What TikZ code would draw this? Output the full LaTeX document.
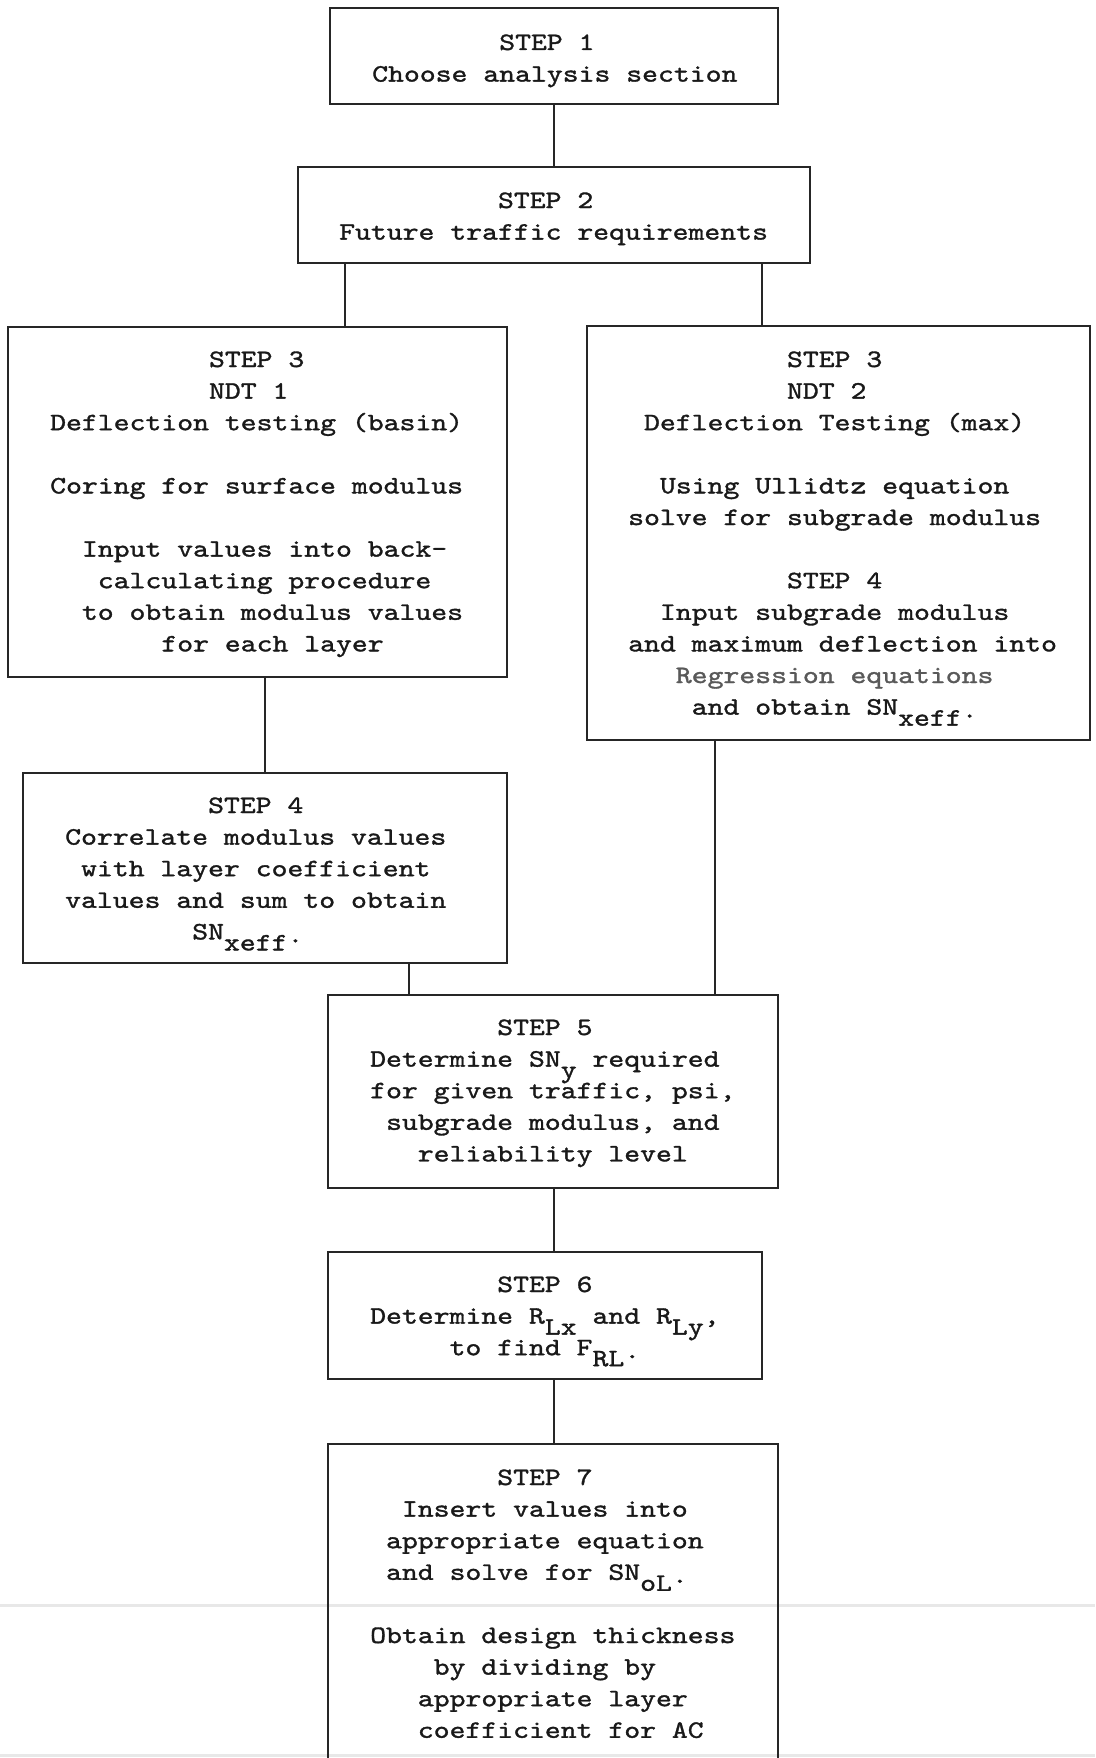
\documentclass[tikz,border=0pt]{standalone}
\usepackage{fontspec}
% typewriter face, widened to a 15.9pt character pitch and given a heavier stroke
\newfontfamily\tw{lmmono10-regular.otf}[FakeStretch=1.21, FakeBold=1.3]
\newlength\cw
\newcommand\twfont{\tw\fontsize{25pt}{31.6pt}\selectfont\settowidth{\cw}{0}}
% one typed line, indented by #1 character cells
\newcommand\tline[2]{\hbox{\hskip#1\cw #2}}
% a block of typed lines; its baseline is the first line's baseline
\newcommand\tblock[1]{\vtop{\baselineskip=31.6pt\lineskiplimit=-100pt\lineskip=0pt #1}}
\newcommand\lowr[1]{\raisebox{-11pt}{#1}}
\newcommand\dotp{\raisebox{-3pt}{.}}

\begin{document}
\begin{tikzpicture}[x=1pt, y=-1pt,
  stepbox/.style={draw=black!85, line width=2.2pt, inner sep=0pt, fill=none},
  txt/.style={anchor=base west, inner sep=0pt, font=\twfont, text=black!90},
  link/.style={draw=black!85, line width=2.2pt},
  faint/.style={draw=black!9, line width=3pt}]
\useasboundingbox (0,0) rectangle (1095,1758);
\clip (0,0) rectangle (1095,1758);

% faint rules across the sheet
\draw[faint] (0,1605) -- (1095,1605);
\draw[faint] (0,1755) -- (1095,1755);

% boxes
\node[stepbox, minimum width=448pt, minimum height=96pt]  (b1)  at (554,56)     {};
\node[stepbox, minimum width=512pt, minimum height=96pt]  (b2)  at (554,215)    {};
\node[stepbox, minimum width=499pt, minimum height=350pt] (b3l) at (257.5,502)  {};
\node[stepbox, minimum width=503pt, minimum height=414pt] (b3r) at (838.5,533)  {};
\node[stepbox, minimum width=484pt, minimum height=190pt] (b4l) at (265,868)    {};
\node[stepbox, minimum width=450pt, minimum height=193pt] (b5)  at (553,1091.5) {};
\node[stepbox, minimum width=434pt, minimum height=127pt] (b6)  at (545,1315.5) {};
\node[stepbox, minimum width=450pt, minimum height=328pt] (b7)  at (553,1608)   {};

% texts
\node[txt] (t1) at (372,50) {\tblock{%
  \tline{8}{STEP 1}%
  \tline{0}{Choose analysis section}}};
\node[txt] (t2) at (339,208) {\tblock{%
  \tline{10}{STEP 2}%
  \tline{0}{Future traffic requirements}}};
\node[txt] (t3l) at (50,367) {\tblock{%
  \tline{10}{STEP 3}%
  \tline{10}{NDT 1}%
  \tline{0}{Deflection testing (basin)}%
  \hbox{}%
  \tline{0}{Coring for surface modulus}%
  \hbox{}%
  \tline{2}{Input values into back-}%
  \tline{3}{calculating procedure}%
  \tline{2}{to obtain modulus values}%
  \tline{7}{for each layer}}};
\node[txt] (t3r) at (628,367) {\tblock{%
  \tline{10}{STEP 3}%
  \tline{10}{NDT 2}%
  \tline{1}{Deflection Testing (max)}%
  \hbox{}%
  \tline{2}{Using Ullidtz equation}%
  \tline{0}{solve for subgrade modulus}%
  \hbox{}%
  \tline{10}{STEP 4}%
  \tline{2}{Input subgrade modulus}%
  \tline{0}{and maximum deflection into}%
  \tline{3}{\color{black!65}Regression equations}%
  \tline{4}{and obtain SN\lowr{xeff}\dotp}}};
\node[txt] (t4l) at (65,813) {\tblock{%
  \tline{9}{STEP 4}%
  \tline{0}{Correlate modulus values}%
  \tline{1}{with layer coefficient}%
  \tline{0}{values and sum to obtain}%
  \tline{8}{SN\lowr{xeff}\dotp}}};
\node[txt] (t5) at (370,1035) {\tblock{%
  \tline{8}{STEP 5}%
  \tline{0}{Determine SN\lowr{y} required}%
  \tline{0}{for given traffic, psi,}%
  \tline{1}{subgrade modulus, and}%
  \tline{3}{reliability level}}};
\node[txt] (t6) at (370,1292) {\tblock{%
  \tline{8}{STEP 6}%
  \tline{0}{Determine R\lowr{Lx} and R\lowr{Ly},}%
  \tline{5}{to find F\lowr{RL}\dotp}}};
\node[txt] (t7) at (370,1485) {\tblock{%
  \tline{8}{STEP 7}%
  \tline{2}{Insert values into}%
  \tline{1}{appropriate equation}%
  \tline{1}{and solve for SN\lowr{oL}\dotp}%
  \hbox{}%
  \tline{0}{Obtain design thickness}%
  \tline{4}{by dividing by}%
  \tline{3}{appropriate layer}%
  \tline{3}{coefficient for AC}}};

% connectors
\draw[link] (b1.south) -- (b1.south |- b2.north);
\draw[link] (b2.south -| 345,0) -- (b3l.north -| 345,0);
\draw[link] (b2.south -| 762,0) -- (b3r.north -| 762,0);
\draw[link] (b3l.south -| 265,0) -- (b4l.north -| 265,0);
\draw[link] (b4l.south -| 409,0) -- (b5.north -| 409,0);
\draw[link] (b3r.south -| 715,0) -- (b5.north -| 715,0);
\draw[link] (b5.south -| 554,0) -- (b6.north -| 554,0);
\draw[link] (b6.south -| 554,0) -- (b7.north -| 554,0);
\end{tikzpicture}
\end{document}
